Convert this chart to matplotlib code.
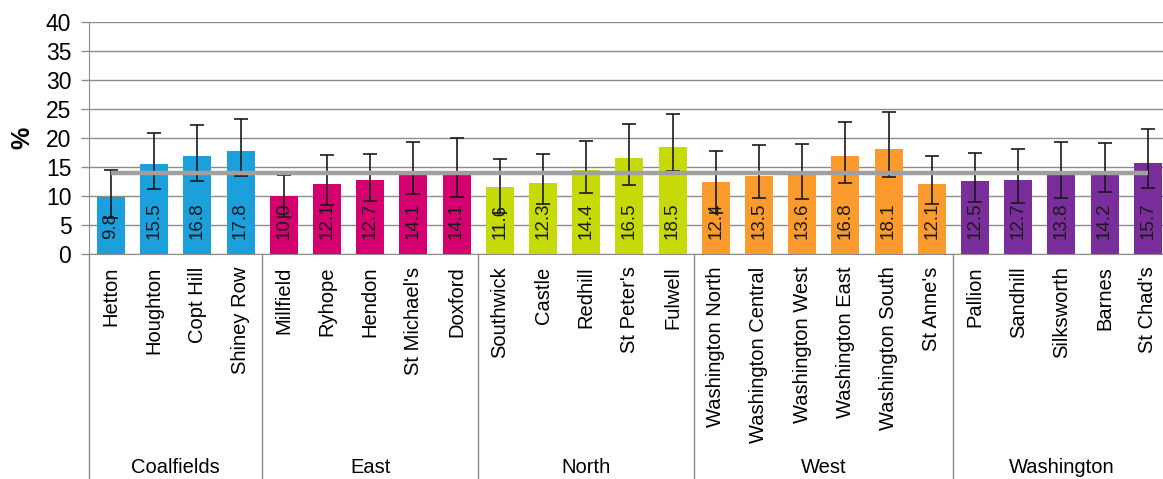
import matplotlib
matplotlib.use("Agg")
import matplotlib.pyplot as plt
import numpy as np

plt.rcParams['font.family'] = ['Liberation Sans', 'DejaVu Sans']

wards = ["Hetton", "Houghton", "Copt Hill", "Shiney Row",
         "Millfield", "Ryhope", "Hendon", "St Michael's", "Doxford",
         "Southwick", "Castle", "Redhill", "St Peter's", "Fulwell",
         "Washington North", "Washington Central", "Washington West",
         "Washington East", "Washington South", "St Anne's",
         "Pallion", "Sandhill", "Silksworth", "Barnes", "St Chad's"]
values = [9.8, 15.5, 16.8, 17.8,
          10.0, 12.1, 12.7, 14.1, 14.1,
          11.6, 12.3, 14.4, 16.5, 18.5,
          12.4, 13.5, 13.6, 16.8, 18.1, 12.1,
          12.5, 12.7, 13.8, 14.2, 15.7]
lower = [6.2, 11.2, 12.6, 13.4,
         6.4, 8.4, 9.2, 10.3, 9.9,
         7.1, 8.6, 10.5, 11.9, 14.3,
         7.0, 9.6, 9.5, 12.2, 13.2, 8.6,
         9.0, 8.7, 9.7, 10.6, 11.3]
upper = [14.5, 20.8, 22.2, 23.3,
         13.6, 17.0, 17.2, 19.2, 20.0,
         16.4, 17.2, 19.5, 22.4, 24.1,
         17.8, 18.7, 18.9, 22.8, 24.5, 16.9,
         17.4, 18.1, 19.3, 19.1, 21.5]
groups = ["Coalfields", "East", "North", "West", "Washington"]
group_sizes = [4, 5, 5, 6, 5]
group_colors = ["#1CA0DC", "#D4006F", "#C6DA0A", "#FB9B2E", "#7A2E9C"]
average = 13.9

fig = plt.figure(figsize=(11.63, 4.79), dpi=100)
ax = fig.add_axes([89.4 / 1163, 225 / 479, 1080 / 1163, 232.3 / 479])

x = np.arange(len(wards))
colors = []
for c, n in zip(group_colors, group_sizes):
    colors += [c] * n

ax.set_axisbelow(True)
ax.yaxis.grid(True, color="#8C8C8C", linewidth=1.0)
ax.bar(x, values, width=0.65, color=colors, zorder=2)

for xi, v in zip(x, values):
    ax.text(xi, 2.6, f"{v:.1f}", rotation=90, ha="center", va="bottom",
            fontsize=13.5, color="#1a1a1a", zorder=3)

vals = np.array(values)
yerr = np.vstack([vals - np.array(lower), np.array(upper) - vals])
ax.errorbar(x, vals, yerr=yerr, fmt="none", ecolor="#1a1a1a",
            elinewidth=1.2, capsize=5, capthick=1.2, zorder=4)

ax.plot([x[0], x[-1]], [average, average], color="#A0A0A0",
        linewidth=3.2, zorder=5, solid_capstyle="butt")

ax.set_xlim(-0.5, len(wards) - 0.5)
ax.set_ylim(0, 40)
ax.set_yticks(np.arange(0, 41, 5))
ax.tick_params(axis="y", labelsize=16.5, length=6, color="#8C8C8C",
               width=1.0, pad=7)
ax.set_xticks(x)
ax.set_xticklabels(wards, rotation=90, fontsize=14.5, va="top", ha="center")
ax.tick_params(axis="x", length=0, pad=9)

ax.set_ylabel("%", fontsize=18, fontweight="bold", rotation=90)
ax.yaxis.set_label_coords(-0.051, 0.5)

for s in ["top", "right"]:
    ax.spines[s].set_visible(False)
ax.spines["left"].set_color("#8C8C8C")
ax.spines["bottom"].set_color("#8C8C8C")

trans = ax.get_xaxis_transform()
bounds = np.concatenate([[0], np.cumsum(group_sizes)]) - 0.5
for b in bounds:
    ax.plot([b, b], [0, -1.0], color="#8C8C8C", linewidth=1.0,
            transform=trans, clip_on=False)
for g, lo, hi in zip(groups, bounds[:-1], bounds[1:]):
    ax.text((lo + hi) / 2, -0.917, g, ha="center", va="center",
            fontsize=14.5, transform=trans)

fig.savefig("out.png", dpi=100)
